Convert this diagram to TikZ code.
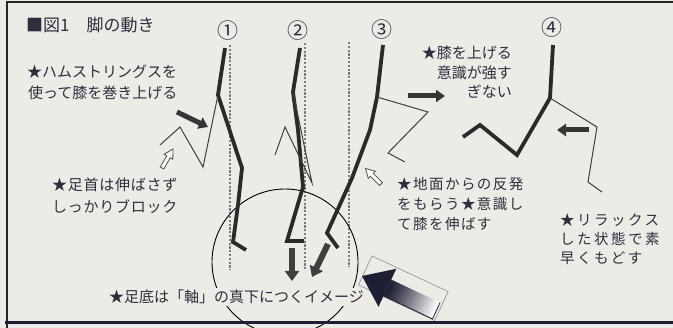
\documentclass[tikz,border=0pt]{standalone}
\usepackage{fontspec}
\newfontfamily\jp{Noto Sans CJK JP}
\usetikzlibrary{arrows.meta}

\definecolor{paper}{HTML}{ECEBE6}
\definecolor{ink}{HTML}{2E2E3E}
\definecolor{limb}{HTML}{2A2A2A}
\definecolor{axisgray}{HTML}{7C7C7C}
\definecolor{rule}{HTML}{1E1E34}

\begin{document}
\begin{tikzpicture}[x=1pt,y=-1pt,
  thickleg/.style={limb, line width=3.8pt, line join=miter},
  thinleg/.style={limb!90, line width=1pt, line join=miter},
  axisline/.style={axisgray, line width=1.3pt, dash pattern=on 2.2pt off 1.6pt},
  bararrow/.style={limb!95, line width=5pt, -{Triangle[length=9pt,width=12pt]}},
  droparrow/.style={limb!90, line width=6pt, -{Triangle[length=10pt,width=14pt]}},
  hollow/.style={draw=black!70, fill=white!80!paper, line width=0.8pt, line join=miter},
  lbl/.style={ink, inner sep=0pt, anchor=base west, font=\jp\fontsize{15}{15}\selectfont},
  wide/.style={ink, inner sep=0pt, anchor=base west, font=\jp\fontsize{14.5}{14.5}\selectfont\addfontfeature{LetterSpace=10}},
  wider/.style={ink, inner sep=0pt, anchor=base west, font=\jp\fontsize{14.5}{14.5}\selectfont\addfontfeature{LetterSpace=17}},
  num/.style={ink, inner sep=0pt, font=\jp\fontsize{21}{21}\selectfont},
]
\useasboundingbox (0,0) rectangle (673,328);
\fill[paper] (0,0) rectangle (673,328);

% vertical body axes
\draw[axisline] (230,45) -- (230,270);
\draw[axisline] (305,43) -- (305,270);
\draw[axisline] (349,42) -- (349,267);

% ground-contact circle
\draw[black, line width=0.9pt] (285,262) circle[radius=73];

% stride 1
\coordinate (a1) at (225,48);
\coordinate (h1) at (218,95);
\coordinate (k1) at (242,168);
\coordinate (s1) at (238,205);
\coordinate (f1) at (233,242);
\coordinate (t1) at (246,250);
\draw[thickleg] (a1) -- (h1) -- (k1) -- (s1) -- (f1) -- (t1);
\coordinate (sk1) at (203,167);
\coordinate (sa1) at (180,127);
\coordinate (st1) at (160,145);
\draw[thinleg] (h1) -- (sk1) -- (sa1) -- (st1);
\coordinate (pa) at (177,112);
\coordinate (pb) at (208,127);
\draw[bararrow] (pa) -- (pb);
\begin{scope}[shift={(162,168)}, rotate=60]
  \draw[hollow] (0,-2) -- (13,-2) -- (13,-5) -- (22,0) -- (13,5) -- (13,2) -- (0,2) -- cycle;
\end{scope}

% stride 2
\coordinate (a2) at (300,48);
\coordinate (h2) at (293,92);
\coordinate (m2) at (298,130);
\coordinate (k2) at (303,187);
\coordinate (f2) at (287,241);
\coordinate (t2) at (304,241);
\draw[thickleg] (a2) -- (h2) -- (m2) -- (k2) -- (f2) -- (t2);
\coordinate (sk2) at (312,183);
\coordinate (sa2) at (285,127);
\coordinate (st2) at (275,155);
\draw[thinleg] (h2) -- (sk2) -- (sa2) -- (st2);
\coordinate (da) at (292,248);
\coordinate (db) at (292,281);
\draw[droparrow] (da) -- (db);

% stride 3
\coordinate (a3) at (383,45);
\coordinate (h3) at (377,97);
\coordinate (m3) at (370,130);
\coordinate (k3) at (352,178);
\coordinate (f3) at (327,233);
\coordinate (t3) at (338,248);
\draw[thickleg] (a3) -- (h3) -- (m3) -- (k3) -- (f3) -- (t3);
\coordinate (sk3) at (428,112);
\coordinate (sa3) at (388,153);
\coordinate (st3) at (405,162);
\draw[thinleg] (h3) -- (sk3) -- (sa3) -- (st3);
\coordinate (qa) at (408,96);
\coordinate (qb) at (445,96);
\draw[bararrow] (qa) -- (qb);
\coordinate (ea) at (328,244);
\coordinate (eb) at (312,277);
\draw[droparrow] (ea) -- (eb);
\begin{scope}[shift={(381,184)}, rotate=135]
  \draw[hollow] (0,-2) -- (13,-2) -- (13,-5) -- (22,0) -- (13,5) -- (13,2) -- (0,2) -- cycle;
\end{scope}

% stride 4
\coordinate (a4) at (553,45);
\coordinate (h4) at (550,98);
\coordinate (k4) at (517,155);
\coordinate (f4) at (480,125);
\coordinate (t4) at (463,137);
\draw[thickleg] (a4) -- (h4) -- (k4) -- (f4) -- (t4);
\coordinate (sk4) at (597,127);
\coordinate (sa4) at (588,182);
\coordinate (st4) at (602,192);
\draw[thinleg] (h4) -- (sk4) -- (sa4) -- (st4);
\coordinate (ra) at (589,130);
\coordinate (rb) at (557,130);
\draw[bararrow] (ra) -- (rb);

% large arrow with its frame; the shaft fades from dark at the head to white at the tail
\draw[black!45, line width=0.6pt] (372,256) -- (448.1,291.5) -- (434.6,320.5) -- (358.5,285) -- cycle;
\foreach \i in {0,...,23}{
  \pgfmathsetmacro\sa{28+54*\i/24}
  \pgfmathsetmacro\sb{28+54*(\i+1)/24+0.4}
  \pgfmathsetmacro\pc{100*(1-(\i/23)^1.2)}
  \fill[rule!\pc!white]
    ({362+\sa*0.906+3.81},{276+\sa*0.423-8.15}) --
    ({362+\sb*0.906+3.81},{276+\sb*0.423-8.15}) --
    ({362+\sb*0.906-3.81},{276+\sb*0.423+8.15}) --
    ({362+\sa*0.906-3.81},{276+\sa*0.423+8.15}) -- cycle;
}
\draw[rule, line width=0.8pt] (383.6,296.0) -- (432.5,318.9) -- (440.1,302.5);
\fill[rule] (362,276) -- (396.3,268.8) -- (378.5,306.8) -- cycle;

% labels
\node[ink, inner sep=0pt, anchor=base west, font=\jp\fontsize{17}{17}\selectfont] (title) at (26,31.5) {■図1　脚の動き};
\node[num] (n1) at (228,31) {①};
\node[num] (n2) at (298,31) {②};
\node[num] (n3) at (382,30) {③};
\node[num] (n4) at (552,28) {④};

\node[lbl] (hs1) at (27,77.7) {★ハムストリングスを};
\node[lbl] (hs2) at (28,98.7) {使って膝を巻き上げる};
\node[lbl, font=\jp\fontsize{15}{15}\selectfont\addfontfeature{LetterSpace=5}] (ak1) at (52,190.7) {★足首は伸ばさず};
\node[lbl, font=\jp\fontsize{15}{15}\selectfont\addfontfeature{LetterSpace=5}] (ak2) at (52,212.7) {しっかりブロック};

\node[lbl, anchor=base east] (kn1) at (512,58.7) {★膝を上げる};
\node[lbl, anchor=base east] (kn2) at (512,78.7) {意識が強す};
\node[lbl, anchor=base east] (kn3) at (512,97.7) {ぎない};

\node[wide] (gr1) at (397,189.5) {★地面からの反発};
\node[wide] (gr2) at (397,209.5) {をもらう★意識し};
\node[wide] (gr3) at (397,229.5) {て膝を伸ばす};

\node[wider] (rx1) at (560,225.5) {★リラックス};
\node[wider] (rx2) at (560,244.5) {した状態で素};
\node[wider] (rx3) at (560,263.5) {早くもどす};

\node[lbl, fill=paper, inner xsep=1pt, inner ysep=2pt] (sole) at (108,302.7) {★足底は「軸」の真下につくイメージ};

% frame
\draw[black!85, line width=2pt] (7,330) -- (7,2.5) -- (675,2.5);
\draw[rule, line width=3pt] (5,322.5) -- (675,322.5);
\end{tikzpicture}
\end{document}
